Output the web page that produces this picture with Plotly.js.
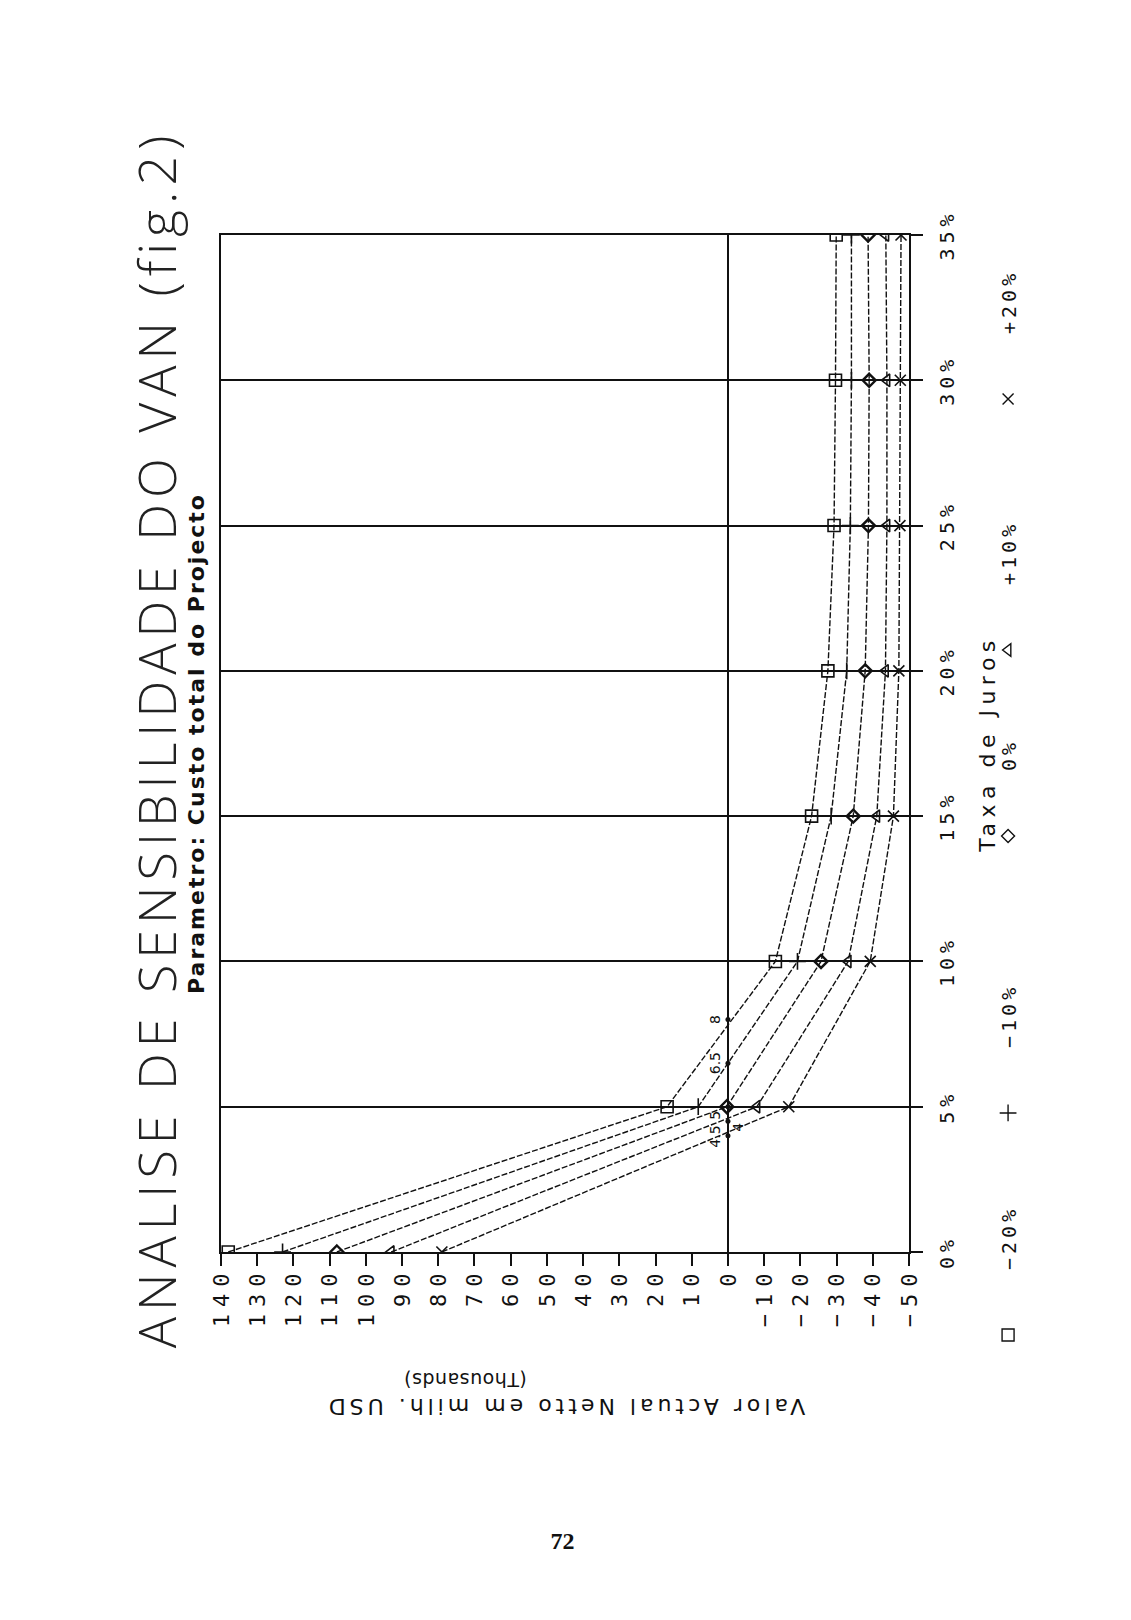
<!DOCTYPE html>
<html><head><meta charset="utf-8">
<script src="https://cdn.plot.ly/plotly-3.0.1.min.js"></script>
<style>
html,body{margin:0;padding:0;background:#fff;width:1131px;height:1620px;overflow:hidden;}
#wrap{position:absolute;left:0;top:0;width:1620px;height:1131px;transform-origin:0 0;transform:translate(0px,1620px) rotate(-90deg);}
#chart{width:1620px;height:1131px;}
.xtick text{letter-spacing:5px;}
.ytick text{letter-spacing:7px;}
.gtitle{letter-spacing:6px;}
.g-xtitle text{letter-spacing:5.5px;}
.g-ytitle text{letter-spacing:4px;}
.legendtext{letter-spacing:4px;}
.annotation[data-index="0"] text{letter-spacing:2px;}
.annotation[data-index="2"] text{letter-spacing:0.5px;}
</style></head><body>
<div id="wrap"><div id="chart"></div></div>
<script>
// Interest rates (%) on the horizontal axis of the original chart
const rates = [0, 5, 10, 15, 20, 25, 30, 35];
const rateTickText = ["0%", "5%", "10%", "15%", "20%", "25%", "30%", "35%"];

// VAN (thousands USD) for each variation of the total project cost
const seriesNames = ["\u221220%", "\u221210%", "0%", "+10%", "+20%"];
const vanMinus20 = [138, 16.8, -13.1, -23.1, -27.6, -29.3, -29.7, -29.9];
const vanMinus10 = [123, 8.2, -19.2, -28.5, -32.8, -33.8, -34.1, -34.1];
const vanZero    = [108, 0.3, -25.7, -34.6, -37.9, -38.8, -39.0, -38.7];
const vanPlus10  = [93, -8.0, -33.2, -41.1, -43.5, -43.9, -43.9, -43.6];
const vanPlus20  = [79, -16.8, -39.3, -45.7, -47.2, -47.5, -47.6, -47.8];

// internal rates of return (where each curve crosses zero)
const irrRates  = [8, 6.5, 5, 4.5, 4];
const irrValues = [0, 0, 0, 0, 0];
const irrLabels = ["8", "6.5", "5", "4.5", "4"];

// value axis ticks
const valueTicks = [140, 130, 120, 110, 100, 90, 80, 70, 60, 50, 40, 30, 20, 10, 0, -10, -20, -30, -40, -50];
const valueTickText = ["140", "130", "120", "110", "100", "90", "80", "70", "60", "50", "40", "30", "20", "10", "0", "\u221210", "\u221220", "\u221230", "\u221240", "\u221250"];

const ink = '#111';
const series = [vanMinus20, vanMinus10, vanZero, vanPlus10, vanPlus20];
const symbols = ['square-open', 'cross-thin-open', 'diamond-open', 'triangle-up-open', 'x-thin-open'];
const sizes = [12, 12, 10, 11, 11];
const lineWidths = [1.6, 1.6, 2.4, 1.6, 1.6];
const legendWidths = [87, 142, 51, 116, 90];

const traces = series.map((vals, i) => ({
  type: 'scatter', mode: 'lines+markers', name: seriesNames[i], showlegend: false,
  x: rates, y: vals,
  line: {color: ink, width: 1.4, dash: '6px,2px'},
  marker: {symbol: symbols[i], size: sizes[i], color: ink, line: {color: ink, width: lineWidths[i]}}
}));
// legend entries show the marker symbol only
seriesNames.forEach((n, i) => traces.push({
  type: 'scatter', mode: 'markers', name: n, x: [null], y: [null],
  legendwidth: legendWidths[i],
  marker: {symbol: symbols[i], size: sizes[i], color: ink, line: {color: ink, width: 1.4}}
}));
traces.push({
  type: 'scatter', mode: 'markers+text', showlegend: false,
  x: irrRates, y: irrValues, text: irrLabels,
  textposition: ['top center', 'top center', 'top left', 'top left', 'bottom right'],
  textfont: {family: 'DejaVu Sans', size: 14, color: ink},
  marker: {symbol: 'circle', size: 5, color: ink}
});

const layout = {
  width: 1620, height: 1131,
  margin: {l: 368, r: 235, t: 221, b: 222},
  paper_bgcolor: '#fff', plot_bgcolor: '#fff',
  showlegend: true,
  title: {text: 'ANALISE DE SENSIBILIDADE DO VAN (fig.2)',
    font: {family: 'Open Sans', size: 52, weight: 300, color: '#222'},
    x: 881 / 1620, xref: 'container', xanchor: 'center', y: 1 - 158 / 1131, yref: 'container', yanchor: 'middle'},
  xaxis: {range: [0, 35], tickvals: rates, ticktext: rateTickText,
    showgrid: true, gridcolor: ink, gridwidth: 2, zeroline: false,
    showline: true, mirror: true, linecolor: ink, linewidth: 2,
    ticks: 'outside', ticklen: 12, tickwidth: 2, tickcolor: ink, ticklabelstandoff: 7,
    tickfont: {family: 'DejaVu Sans Mono', size: 20, color: ink},
    title: {text: 'Taxa de Juros', standoff: 22, font: {family: 'DejaVu Sans', size: 22, color: ink}}},
  yaxis: {range: [-50, 140], tickvals: valueTicks, ticktext: valueTickText,
    showgrid: false, zeroline: true, zerolinecolor: ink, zerolinewidth: 2,
    showline: true, mirror: true, linecolor: ink, linewidth: 2,
    ticks: 'outside', ticklen: 12, tickwidth: 2, tickcolor: ink, ticklabelstandoff: -4,
    tickfont: {family: 'DejaVu Sans Mono', size: 22, color: ink},
    title: {text: 'Valor Actual Netto em milh. USD', standoff: 65,
      font: {family: 'DejaVu Sans', size: 22, color: ink}}},
  legend: {orientation: 'h', xref: 'paper', x: -0.1455, xanchor: 'left',
    yref: 'paper', y: -0.144, yanchor: 'middle',
    itemwidth: 120, bgcolor: 'rgba(0,0,0,0)',
    font: {family: 'DejaVu Sans Mono', size: 20, color: ink}},
  annotations: [
    {text: '<b>Parametro: Custo total do Projecto</b>', xref: 'paper', yref: 'paper', x: 0.5, y: 1.036,
      xanchor: 'center', yanchor: 'middle', showarrow: false, font: {family: 'DejaVu Sans', size: 22, color: ink}},
    {text: '<b>72</b>', xref: 'paper', yref: 'paper', x: -0.2837, y: 0.503, textangle: 90,
      xanchor: 'center', yanchor: 'middle', showarrow: false, font: {family: 'Liberation Serif', size: 24, color: ink}},
    {text: '(Thousands)', xref: 'paper', yref: 'paper', x: -0.126, y: 0.645, textangle: -90,
      xanchor: 'center', yanchor: 'middle', showarrow: false, font: {family: 'DejaVu Sans', size: 19, color: ink}}
  ]
};

Plotly.newPlot('chart', traces, layout, {displayModeBar: false, staticPlot: true});
</script>
</body></html>
